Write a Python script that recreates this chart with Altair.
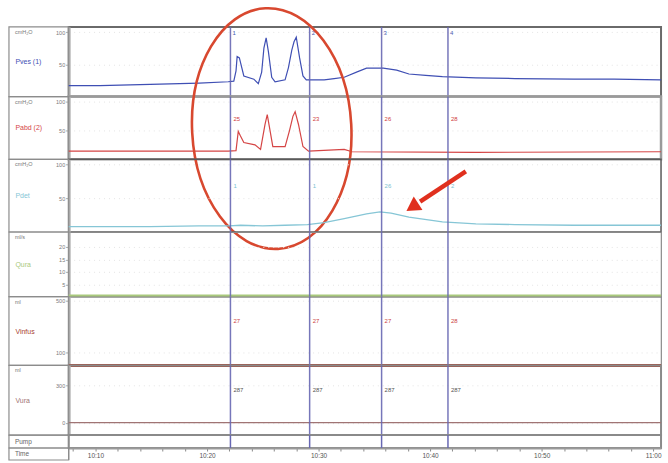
import altair as alt
import pandas as pd

# ---- time base: minutes after 10:00 ----
T0, T1 = 7.6, 60.7
time_ticks = list(range(8, 61, 2))

# ---- traces (minutes, value) ----
pves_t = [7.6, 10.4, 14.9, 19.3, 21.9, 22.4, 22.6, 22.7, 22.9, 23.3, 24.2, 24.6, 24.9, 25.1,
          25.3, 25.5, 25.8, 26.1, 27.0, 27.3, 27.6, 27.8, 28.0, 28.3, 28.6, 28.9, 30.5, 31.4,
          32.3, 33.4, 34.3, 35.8, 37.0, 38.1, 39.6, 41.1, 44.1, 47.6, 52.9, 56.5, 60.7]
pves_v = [17, 17, 19, 21, 23, 24, 40, 62, 60, 32, 27, 20, 38, 75,
          91, 70, 30, 23, 26, 45, 72, 85, 92, 60, 32, 26, 26, 28,
          30, 38, 44, 44, 41, 35, 33, 31, 29, 28, 27, 27, 26]

pabd_t = [7.6, 14.9, 21.9, 22.6, 22.8, 23.0, 23.3, 24.3, 24.8, 25.2, 25.4, 25.6, 25.9,
          27.0, 27.4, 27.7, 27.9, 28.2, 28.6, 29.1, 32.3, 33.0, 44.1, 60.7]
pabd_v = [14, 14, 14, 15, 48, 40, 29, 25, 17, 60, 77, 55, 22,
          22, 50, 74, 82, 60, 22, 14, 17, 13, 12, 13]

pdet_t = [7.6, 14.9, 19.3, 22.0, 23.0, 25.0, 27.0, 29.0, 30.5, 32.3, 34.3, 35.5, 36.5,
          38.1, 41.1, 44.1, 47.6, 52.9, 60.7]
pdet_v = [8, 8, 9, 9, 10, 9, 10, 11, 14, 20, 27, 30, 28,
          22, 15, 12, 11, 10, 10]

qura_t = [7.6, 60.7]
qura_v = [0.4, 0.4]
vinfus_t = [7.6, 60.7]
vinfus_v = [0, 0]
vura_t = [7.6, 60.7]
vura_v = [0, 0]

# ---- event markers ----
event_t = [22.1, 29.2, 35.65, 41.6]
event_num = ["1", "2", "3", "4"]
pabd_marks = ["25", "23", "26", "28"]
pdet_marks = ["1", "1", "26", "2"]
vinfus_marks = ["27", "27", "27", "28"]
vura_marks = ["287", "287", "287", "287"]

W = 595
FONT = "Liberation Sans"
xscale = alt.Scale(domain=[T0, T1], nice=False, zero=False)
one = pd.DataFrame({"a": [0]})


def label_column(h):
    return alt.Chart(one).mark_rect(fill="transparent", stroke="#8c8c8c", strokeWidth=1.2).encode(
        x=alt.value(-60), x2=alt.value(0), y=alt.value(0), y2=alt.value(h))


def panel(name, unit, color, h, domain, ticks, t, v, width, marks, mark_v, mark_color,
          stroke="#8a8a8a", stroke_w=1.5, extra=None):
    df = pd.DataFrame({"t": t, "v": v})
    trace = alt.Chart(df).mark_line(color=color, strokeWidth=width, clip=False).encode(
        x=alt.X("t:Q", scale=xscale, axis=None),
        y=alt.Y("v:Q", scale=alt.Scale(domain=domain, nice=False, zero=False),
                axis=alt.Axis(values=ticks, title=name, titleAngle=0, titleAlign="left",
                              titleBaseline="middle", titleX=-54, titleY=h / 2,
                              titleColor=color, titleFontSize=7, titleFontWeight="normal",
                              titleFont=FONT, labelFont=FONT, labelFontSize=5.5,
                              labelColor="#7a7a7a", labelPadding=1, tickSize=3,
                              tickColor="#9a9a9a", domainColor="#b4b4b4", domainWidth=3,
                              grid=True, gridColor="#e4e4e4", gridDash=[1, 4])))
    ev = pd.DataFrame({"t": event_t})
    rules = alt.Chart(ev).mark_rule(color="#6767b3", strokeWidth=1.5, opacity=0.9).encode(
        x=alt.X("t:Q", scale=xscale))
    layers = [label_column(h), trace, rules]
    if marks:
        md = pd.DataFrame({"t": event_t, "v": [mark_v] * 4, "lab": marks})
        layers.append(alt.Chart(md).mark_text(align="left", dx=3, fontSize=6, font=FONT,
                                              color=mark_color).encode(
            x=alt.X("t:Q", scale=xscale), y="v:Q", text="lab:N"))
    layers.append(alt.Chart(one).mark_text(align="left", baseline="top", fontSize=5.5,
                                           font=FONT, color="#777").encode(
        x=alt.value(-54), y=alt.value(3), text=alt.value(unit)))
    if extra:
        layers += extra
    return alt.layer(*layers).properties(
        width=W, height=h, view=alt.ViewBackground(stroke=stroke, strokeWidth=stroke_w))


# annotation: ellipse (cubic-bezier outline) around the cough spikes, arrow at the Pdet rise
ellipse_path = ("M -0.661 0 C -0.661 -0.552 -0.365 -1 0 -1 C 0.365 -1 0.661 -0.552 0.661 0 "
                "C 0.661 0.552 0.365 1 0 1 C -0.365 1 -0.661 0.552 -0.661 0 Z")
ell = alt.Chart(pd.DataFrame({"t": [25.8], "v": [53]})).mark_point(
    shape=ellipse_path, filled=False, color="#d8482f", strokeWidth=2.6, size=58564,
    angle=357, opacity=1).encode(x=alt.X("t:Q", scale=xscale), y="v:Q")

arrow_df = pd.DataFrame({"t": [43.2], "v": [90], "t2": [39.1], "v2": [45]})
arrow = alt.Chart(arrow_df).mark_rule(color="#e0301e", strokeWidth=4.5).encode(
    x=alt.X("t:Q", scale=xscale), y="v:Q", x2="t2:Q", y2="v2:Q")
head = alt.Chart(pd.DataFrame({"t": [38.4], "v": [37]})).mark_point(
    shape="triangle-up", filled=True, color="#e0301e", opacity=1, size=260, angle=237).encode(
    x=alt.X("t:Q", scale=xscale), y="v:Q")

pves_num = alt.Chart(pd.DataFrame({"t": event_t, "v": [99] * 4, "lab": event_num})).mark_text(
    align="left", dx=2, fontSize=6, font=FONT, color="#4a5ab0").encode(
    x=alt.X("t:Q", scale=xscale), y="v:Q", text="lab:N")

p_pves = panel("Pves (1)", "cmH₂O", "#3f4fb4", 70, [0, 108], [50, 100], pves_t, pves_v, 1.2,
               None, 0, "#4a5ab0", stroke="#6a6a6a", stroke_w=2, extra=[pves_num])
p_pabd = panel("Pabd (2)", "cmH₂O", "#d54545", 63, [0, 108], [50, 100], pabd_t, pabd_v, 1.2,
               pabd_marks, 69, "#d04040", stroke="#9a9a9a", stroke_w=2.5, extra=[ell])
p_pdet = panel("Pdet", "cmH₂O", "#86c6d6", 73, [0, 108], [50, 100], pdet_t, pdet_v, 1.3,
               pdet_marks, 68, "#7cc0d0", stroke="#5a5a5a", stroke_w=1.5, extra=[arrow, head])
p_qura = panel("Qura", "ml/s", "#a9c97c", 65, [0, 26], [5, 10, 15, 20], qura_t, qura_v, 2.5,
               None, 0, "#999", stroke="#8a8a8a", stroke_w=1.2)
p_vinf = panel("Vinfus", "ml", "#a8402f", 69, [0, 530], [100, 200, 300, 400, 500],
               vinfus_t, vinfus_v, 3, vinfus_marks, 346, "#cc4444", stroke="#8a8a8a", stroke_w=1.2)
p_vura = panel("Vura", "ml", "#a07474", 70, [-100, 460], [0, 100, 200, 300],
               vura_t, vura_v, 1.2, vura_marks, 260, "#555", stroke="#8a8a8a", stroke_w=2)

# pump row with the time axis underneath
ev = pd.DataFrame({"t": event_t})
pump_rules = alt.Chart(ev).mark_rule(color="#6767b3", strokeWidth=1.5).encode(
    x=alt.X("t:Q", scale=xscale,
            axis=alt.Axis(values=time_ticks, title=None, labelOverlap=False,
                          labelExpr="datum.value % 10 == 0 ? (10 + floor(datum.value / 60)) + ':' + "
                                    "(datum.value % 60 == 0 ? '00' : '' + (datum.value % 60)) : ''",
                          labelFont=FONT, labelFontSize=6.5, labelColor="#555",
                          labelPadding=2, tickSize=3, tickColor="#888",
                          domainColor="#9a9a9a", domainWidth=2, grid=False)))
pump_text = alt.Chart(pd.DataFrame({"lab": ["Pump", "Time"], "yy": [6.5, 19.5]})).mark_text(
    align="left", baseline="middle", fontSize=6.5, font=FONT, color="#666").encode(
    x=alt.value(-54), y=alt.Y("yy:Q", scale=alt.Scale(domain=[0, 13], range=[0, 13]), axis=None),
    text="lab:N")
time_box = alt.Chart(one).mark_rect(fill="transparent", stroke="#8c8c8c", strokeWidth=1.2).encode(
    x=alt.value(-60), x2=alt.value(0), y=alt.value(13), y2=alt.value(25))
time_edge = alt.Chart(one).mark_rule(color="#8c8c8c", strokeWidth=1.2).encode(
    x=alt.value(0), y=alt.value(13), y2=alt.value(25))
p_pump = alt.layer(label_column(13), time_box, time_edge, pump_rules, pump_text).properties(
    width=W, height=13, view=alt.ViewBackground(stroke="#8a8a8a", strokeWidth=2))

chart = alt.vconcat(p_pves, p_pabd, p_pdet, p_qura, p_vinf, p_vura, p_pump,
                    spacing=0, bounds="flush").resolve_scale(y="independent").properties(
    padding={"left": 7, "top": 0, "right": 0, "bottom": 0}, background="white")

chart.save("out.html", embed_options={"renderer": "svg", "actions": False})
